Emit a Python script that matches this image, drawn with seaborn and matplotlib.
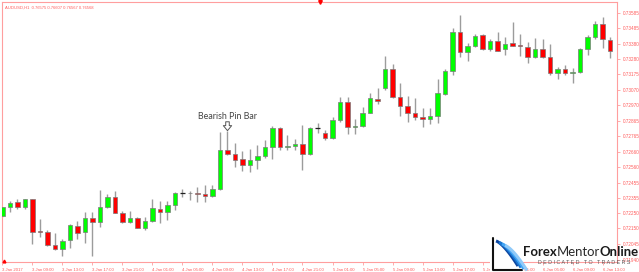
import numpy as np
import pandas as pd
import matplotlib
matplotlib.use("Agg")
import matplotlib.pyplot as plt
import seaborn as sns
from matplotlib.patches import Polygon

# ---------------- data (AUDUSD H1, 3 Jan 05:00 -> 6 Jan 14:00) ----------------
opens = [0.72235, 0.72291, 0.72324, 0.72291, 0.72344, 0.72133, 0.72124, 0.72040, 0.72013, 0.72073,
         0.72166, 0.72124, 0.72221, 0.72191, 0.72291, 0.72361, 0.72255, 0.72195, 0.72217, 0.72151,
         0.72202, 0.72279, 0.72261, 0.72306, 0.72384, 0.72384, 0.72388, 0.72379, 0.72363, 0.72410,
         0.72672, 0.72645, 0.72610, 0.72572, 0.72605, 0.72634, 0.72690, 0.72816, 0.72690, 0.72699,
         0.72712, 0.72643, 0.72816, 0.72783, 0.72750, 0.72872, 0.72989, 0.72823, 0.72832, 0.72920,
         0.73011, 0.73083, 0.73211, 0.73023, 0.72965, 0.72920, 0.72890, 0.72876, 0.72900, 0.73045,
         0.73200, 0.73455, 0.73322, 0.73366, 0.73437, 0.73342, 0.73397, 0.73342, 0.73382, 0.73371,
         0.73359, 0.73289, 0.73344, 0.73289, 0.73182, 0.73209, 0.73182, 0.73193, 0.73342, 0.73426,
         0.73510, 0.73404]
highs = [0.72295, 0.72333, 0.72344, 0.72348, 0.72346, 0.72213, 0.72140, 0.72122, 0.72078, 0.72178,
         0.72202, 0.72261, 0.72261, 0.72406, 0.72379, 0.72399, 0.72266, 0.72268, 0.72228, 0.72224,
         0.72346, 0.72335, 0.72335, 0.72390, 0.72410, 0.72401, 0.72429, 0.72439, 0.72439, 0.72794,
         0.72800, 0.72717, 0.72667, 0.72677, 0.72705, 0.72738, 0.72832, 0.72827, 0.72772, 0.72743,
         0.72838, 0.72823, 0.72854, 0.72805, 0.72889, 0.73025, 0.73025, 0.72876, 0.72956, 0.73051,
         0.73083, 0.73297, 0.73244, 0.73116, 0.73031, 0.73016, 0.72949, 0.72949, 0.73142, 0.73209,
         0.73482, 0.73570, 0.73386, 0.73444, 0.73444, 0.73410, 0.73459, 0.73426, 0.73526, 0.73444,
         0.73392, 0.73415, 0.73408, 0.73375, 0.73226, 0.73238, 0.73216, 0.73349, 0.73437, 0.73530,
         0.73557, 0.73422]
lows = [0.72226, 0.72261, 0.72279, 0.72277, 0.72044, 0.72091, 0.72035, 0.72007, 0.71967, 0.72018,
        0.72080, 0.72051, 0.71967, 0.72162, 0.72284, 0.72251, 0.72188, 0.72184, 0.72151, 0.72140,
        0.72191, 0.72184, 0.72206, 0.72273, 0.72361, 0.72339, 0.72328, 0.72328, 0.72359, 0.72406,
        0.72639, 0.72561, 0.72534, 0.72528, 0.72546, 0.72617, 0.72610, 0.72672, 0.72672, 0.72672,
        0.72539, 0.72639, 0.72783, 0.72738, 0.72743, 0.72860, 0.72778, 0.72778, 0.72827, 0.72918,
        0.72978, 0.73071, 0.73016, 0.72898, 0.72860, 0.72872, 0.72827, 0.72845, 0.72854, 0.73038,
        0.73171, 0.73293, 0.73266, 0.73355, 0.73337, 0.73333, 0.73333, 0.73304, 0.73362, 0.73297,
        0.73249, 0.73282, 0.73282, 0.73171, 0.73147, 0.73171, 0.73120, 0.73186, 0.73304, 0.73410,
        0.73354, 0.73282]
closes = [0.72291, 0.72321, 0.72291, 0.72344, 0.72128, 0.72124, 0.72040, 0.72013, 0.72068, 0.72173,
          0.72122, 0.72221, 0.72191, 0.72291, 0.72361, 0.72255, 0.72195, 0.72217, 0.72155, 0.72200,
          0.72284, 0.72261, 0.72306, 0.72384, 0.72384, 0.72386, 0.72379, 0.72366, 0.72410, 0.72672,
          0.72645, 0.72605, 0.72572, 0.72605, 0.72634, 0.72690, 0.72816, 0.72690, 0.72699, 0.72710,
          0.72643, 0.72816, 0.72816, 0.72750, 0.72872, 0.72993, 0.72827, 0.72834, 0.72920, 0.73018,
          0.72995, 0.73211, 0.73023, 0.72965, 0.72920, 0.72890, 0.72878, 0.72900, 0.73049, 0.73198,
          0.73455, 0.73326, 0.73366, 0.73432, 0.73342, 0.73397, 0.73333, 0.73377, 0.73366, 0.73364,
          0.73289, 0.73344, 0.73289, 0.73182, 0.73209, 0.73182, 0.73193, 0.73342, 0.73426, 0.73510,
          0.73408, 0.73333]

x_tick_labels = ["3 Jan 2017", "3 Jan 09:00", "3 Jan 13:00", "3 Jan 17:00", "3 Jan 21:00",
                 "4 Jan 01:00", "4 Jan 05:00", "4 Jan 09:00", "4 Jan 13:00", "4 Jan 17:00",
                 "4 Jan 21:00", "5 Jan 01:00", "5 Jan 05:00", "5 Jan 09:00", "5 Jan 13:00",
                 "5 Jan 17:00", "5 Jan 21:00", "6 Jan 01:00", "6 Jan 05:00", "6 Jan 09:00",
                 "6 Jan 13:00"]
y_tick_values = [0.73585, 0.73485, 0.73380, 0.73280, 0.73175, 0.73070, 0.72970, 0.72865, 0.72765,
                 0.72660, 0.72560, 0.72455, 0.72355, 0.72250, 0.72150, 0.72045, 0.71940]
title_text = "AUDUSD,H1  0.76575 0.76607 0.76567 0.76568"
pin_bar_index = 30
pin_bar_label = "Bearish Pin Bar"

# ---------------- styling ----------------
W, H = 639, 272
sns.set_theme(style="white")
plt.rcParams["font.family"] = ["Liberation Sans", "DejaVu Sans"]

PINK = "#ff9e9e"
LABEL = "#ff5a5a"
UP = "#00ff00"
DOWN = "#ff0000"

o = np.array(opens); h = np.array(highs); l = np.array(lows); c = np.array(closes)
n = len(o)
idx = np.arange(n)

fig = plt.figure(figsize=(W / 100, H / 100), dpi=100)
fig.patch.set_facecolor("white")
ax = fig.add_axes([1.5 / W, (H - 262) / H, (617 - 1.5) / W, (262 - 2) / H])
ax.set_facecolor("white")

# wicks
ax.vlines(idx, l, h, colors="#9c9c9c", linewidth=1.0, zorder=2)

# bodies via seaborn barplot
df = pd.DataFrame({"k": idx, "body": np.abs(c - o), "bottom": np.minimum(o, c)})
sns.barplot(data=df, x="k", y="body", bottom=df["bottom"].to_numpy(), width=0.66,
            color=UP, saturation=1, errorbar=None, ax=ax, zorder=3,
            linewidth=0.5, edgecolor="#7a7a7a")
for p, oo, cc in zip(ax.patches, o, c):
    if cc > oo:
        p.set_facecolor(UP)
    elif cc < oo:
        p.set_facecolor(DOWN)
    else:
        p.set_edgecolor("#202020")
        p.set_linewidth(0.9)

ax.set_xlim(-0.13, 81.93)
ax.set_ylim(0.71927, 0.73657)
ax.set_xlabel("")
ax.set_ylabel("")

ax.set_xticks(np.arange(0, n, 4)[:len(x_tick_labels)])
ax.set_xticklabels(x_tick_labels, ha="left")
ax.yaxis.tick_right()
ax.set_yticks(y_tick_values)
ax.set_yticklabels([f"{v:.5f}" for v in y_tick_values])
ax.tick_params(axis="x", colors=PINK, labelcolor=LABEL, labelsize=3.1, length=2.5,
               width=0.6, pad=1.5, direction="out", bottom=True)
ax.tick_params(axis="y", colors=PINK, labelcolor=LABEL, labelsize=3.3, length=2.5,
               width=0.6, pad=1.5, direction="out", right=True, left=False)
for s in ax.spines.values():
    s.set_color(PINK)
    s.set_linewidth(0.8)
    s.set_visible(True)
ax.grid(False)

# title
ax.text(0.006, 0.985, title_text, transform=ax.transAxes, ha="left", va="top",
        fontsize=3.0, color=LABEL)

# markers
ax.plot([0.517], [1.0], marker="v", color="red", ms=2.6, transform=ax.transAxes,
        clip_on=False, zorder=6)
ax.plot([0.004], [0.004], marker="^", color="red", ms=2.0, transform=ax.transAxes,
        clip_on=False, zorder=6)

# pin bar annotation (hollow down arrow + label)
ax.text(pin_bar_index, h[pin_bar_index] + 0.00066, pin_bar_label, ha="center",
        va="bottom", fontsize=6.4, color="#444444", family=["Lato", "DejaVu Sans"])
ax.annotate("", xy=(pin_bar_index, h[pin_bar_index] + 0.00001),
            xytext=(pin_bar_index, h[pin_bar_index] + 0.00060),
            arrowprops=dict(arrowstyle="simple,head_width=0.75,head_length=0.45,tail_width=0.32",
                            fc="white", ec="#555555", lw=0.7, mutation_scale=8,
                            shrinkA=0, shrinkB=0))

# ---------------- logo (watermark) ----------------
def fx(x):
    return x / W

def fy(y):
    return 1 - y / H

ICON_L, ICON_R = 490, 523
icon_bg = Polygon([(fx(ICON_L), fy(237)), (fx(ICON_R), fy(237)), (fx(ICON_R), fy(272)),
                   (fx(ICON_L), fy(272))],
                  closed=True, transform=fig.transFigure, fc="white", ec="none", zorder=10)
fig.patches.append(icon_bg)
frame_pts = [(fx(ICON_L + 3), fy(238)), (fx(ICON_L + 3), fy(270)), (fx(ICON_R - 1), fy(270))]
fig.lines.append(plt.Line2D([p[0] for p in frame_pts], [p[1] for p in frame_pts],
                            transform=fig.transFigure, color="#111111", lw=1.5, zorder=11))
for i, col in enumerate(["#0d47a1", "#1976d2", "#42a5f5", "#90caf9"]):
    t = np.linspace(0, 1, 20)
    xs = ICON_L + 6 + i * 3 + t * 22
    ys = 241 + i * 1.5 + 25 * t ** 1.4
    fig.lines.append(plt.Line2D(fx(xs), fy(ys), transform=fig.transFigure, color=col,
                                lw=2.2, zorder=11, solid_capstyle="butt"))

fig.canvas.draw()
renderer = fig.canvas.get_renderer()
parts = [("Forex", "bold", "#1a1a1a"), ("Mentor", "normal", "#2a2a2a"), ("Online", "bold", "#1a1a1a")]
TXT_L, TXT_R = 523, 638
fs = 10.0
texts = []
for _ in range(3):
    for t in texts:
        t.remove()
    texts = []
    xcur = TXT_L
    for s, wgt, col in parts:
        t = fig.text(fx(xcur), fy(256), s, fontsize=fs, fontweight=wgt, color=col,
                     ha="left", va="baseline", zorder=12, family=["Lato", "DejaVu Sans"])
        bb = t.get_window_extent(renderer)
        xcur += bb.width
        texts.append(t)
    total = xcur - TXT_L
    fs = fs * (TXT_R - TXT_L) / total

ded = fig.text(fx(584), fy(264), "D E D I C A T E D   T O   T R A D E R S", fontsize=4.2,
               color="#555555", ha="center", va="baseline", zorder=12)
bb = ded.get_window_extent(renderer)
ded.set_fontsize(4.2 * 92 / bb.width)

fig.savefig("out.png", dpi=100, facecolor="white")
